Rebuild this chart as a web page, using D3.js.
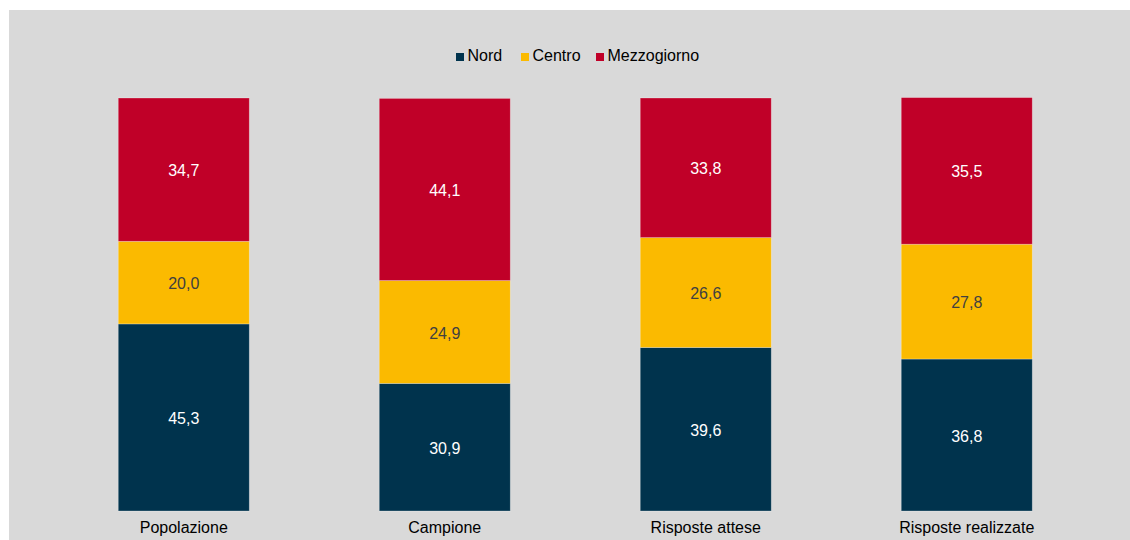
<!DOCTYPE html>
<html>
<head>
<meta charset="utf-8">
<script src="https://cdn.jsdelivr.net/npm/d3@7"></script>
<style>
  html, body { margin: 0; padding: 0; background: #ffffff; }
  svg { display: block; font-family: "Liberation Sans", Arial, sans-serif; }
</style>
</head>
<body>
<svg id="chart" width="1130" height="540"></svg>
<script>
// Categories (x axis) and the three area series, in percent
const categories = ["Popolazione", "Campione", "Risposte attese", "Risposte realizzate"];
const seriesNames = ["Nord", "Centro", "Mezzogiorno"];
const nord = [45.3, 30.9, 39.6, 36.8];
const centro = [20.0, 24.9, 26.6, 27.8];
const mezzogiorno = [34.7, 44.1, 33.8, 35.5];

const colors = { "Nord": "#00334D", "Centro": "#FBBA00", "Mezzogiorno": "#C00028" };
const labelColors = { "Nord": "#ffffff", "Centro": "#404040", "Mezzogiorno": "#ffffff" };

const rows = categories.map((c, i) => ({
  cat: c, Nord: nord[i], Centro: centro[i], Mezzogiorno: mezzogiorno[i]
}));

const svg = d3.select("#chart");

// Plot background
svg.append("rect")
  .attr("x", 9).attr("y", 10)
  .attr("width", 1130 - 9).attr("height", 540 - 10)
  .attr("fill", "#D9D9D9");

const x = d3.scaleBand()
  .domain(categories)
  .range([53, 1097.5])
  .paddingInner(0.498)
  .paddingOuter(0.25);

const y = d3.scaleLinear()
  .domain([0, 100])
  .range([511, 98]);

const stacked = d3.stack().keys(seriesNames)(rows);

const layers = svg.append("g").selectAll("g")
  .data(stacked)
  .join("g")
  .attr("fill", d => colors[d.key]);

layers.selectAll("rect")
  .data(d => d.map(p => Object.assign(p, { key: d.key })))
  .join("rect")
  .attr("x", d => x(d.data.cat))
  .attr("width", x.bandwidth())
  .attr("y", d => y(d[1]))
  .attr("height", d => y(d[0]) - y(d[1]))
  .attr("stroke", "#ffffff")
  .attr("stroke-opacity", 0.35)
  .attr("stroke-width", 0.75);

// Value labels centred in each segment
const fmt = v => d3.format(".1f")(v).replace(".", ",");
layers.selectAll("text")
  .data(d => d)
  .join("text")
  .attr("x", d => x(d.data.cat) + x.bandwidth() / 2)
  .attr("y", d => (y(d[0]) + y(d[1])) / 2 + 1)
  .attr("dy", "0.35em")
  .attr("text-anchor", "middle")
  .attr("font-size", 16)
  .attr("fill", d => labelColors[d.key])
  .text(d => fmt(d[1] - d[0]));

// Category axis labels
const xAxis = svg.append("g")
  .attr("transform", "translate(0,511)")
  .call(d3.axisBottom(x).tickSize(0).tickPadding(11));
xAxis.select(".domain").remove();
xAxis.selectAll("text")
  .attr("font-family", "Liberation Sans, Arial, sans-serif")
  .attr("font-size", 16)
  .attr("fill", "#000000")
  .attr("dy", "0.71em");

// Legend
const legendX = [456, 521, 596];
const legend = svg.append("g").selectAll("g")
  .data(seriesNames)
  .join("g")
  .attr("transform", (d, i) => `translate(${legendX[i]},53)`);
legend.append("rect")
  .attr("width", 8).attr("height", 8)
  .attr("fill", d => colors[d]);
legend.append("text")
  .attr("x", 11.5).attr("y", 7.5)
  .attr("font-size", 16)
  .attr("fill", "#000000")
  .text(d => d);
</script>
</body>
</html>
